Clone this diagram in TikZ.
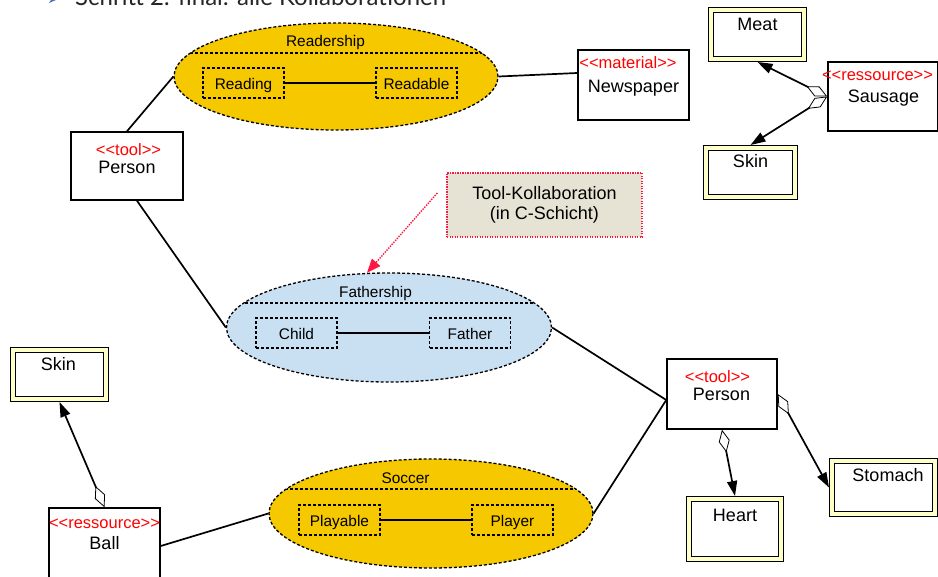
\documentclass[tikz,border=0pt]{standalone}
\usepackage{fontspec}
\newfontfamily\af{Liberation Sans}
\newfontfamily\hf{Lato}
\usetikzlibrary{shapes.geometric,arrows.meta,calc}
\definecolor{gold}{HTML}{F5C800}
\definecolor{lblue}{HTML}{C9DFF2}
\definecolor{notefill}{HTML}{E6E3D4}
\definecolor{notered}{HTML}{FF1744}
\definecolor{band}{HTML}{FFFFC8}
\definecolor{stereo}{HTML}{FF0000}
\definecolor{headgray}{HTML}{262626}
\definecolor{bullblue}{HTML}{4472C4}
\begin{document}
\begin{tikzpicture}[x=1pt,y=-1pt, font=\af,
  box/.style={draw, line width=1.5pt, fill=white, inner sep=0pt, rectangle},
  dbox/.style={draw, line width=1.3pt, double=band, double distance=3.8pt, fill=white, inner sep=0pt, outer sep=3.2pt, rectangle},
  coll/.style={ellipse, draw, line width=1.3pt, dash pattern=on 3pt off 2pt, inner sep=0pt},
  chord/.style={line width=1.3pt, dash pattern=on 3pt off 2pt},
  role/.style={draw, line width=1.3pt, dash pattern=on 3pt off 2pt, minimum width=81pt, minimum height=30pt, inner sep=0pt, text height=12.5pt, text depth=0pt, font=\af\fontsize{15.4}{15.4}\selectfont},
  ttl/.style={anchor=base, inner sep=0pt, font=\af\fontsize{15.4}{15.4}\selectfont},
  txt/.style={anchor=base, inner sep=0pt, font=\af\fontsize{18}{18}\selectfont},
  st/.style={anchor=base, inner sep=0pt, text=stereo, font=\af\fontsize{16.5}{16.5}\selectfont},
  link/.style={line width=1.7pt},
  agg/.style={line width=1.7pt, {Diamond[open, length=23pt, width=11pt, line width=0.8pt]}-{Triangle[length=15pt, width=10pt]}},
  notebox/.style={draw=notered, line width=1.3pt, dash pattern=on 1.3pt off 1.2pt, fill=notefill, minimum width=195pt, minimum height=64pt, align=center, inner sep=0pt, font=\af\fontsize{18}{20}\selectfont}
]
\useasboundingbox (0,0) rectangle (938,577);

% heading (cut off at the top, as in the reference)
\fill[bullblue] (49,-6) -- (56,0) -- (49,3) -- (51,0) -- cycle;
\node[anchor=base west, inner sep=0pt, text=headgray, font=\hf\fontsize{24}{24}\selectfont] (head) at (75,6) {Schritt 2: final: alle Kollaborationen};

% collaborations
\node[coll, fill=gold, minimum width=324pt, minimum height=107pt] (read) at (336,76.5) {};
\node[coll, fill=lblue, minimum width=325pt, minimum height=109pt] (fath) at (389,327.5) {};
\node[coll, fill=gold, minimum width=324pt, minimum height=109pt] (socc) at (431,513.5) {};
\begin{scope}
  \clip (336,76.5) ellipse [x radius=162, y radius=53.5];
  \draw[chord] (150,53) -- (520,53);
\end{scope}
\begin{scope}
  \clip (389,327.5) ellipse [x radius=162.5, y radius=54.5];
  \draw[chord] (200,303) -- (580,303);
\end{scope}
\begin{scope}
  \clip (431,513.5) ellipse [x radius=162, y radius=54.5];
  \draw[chord] (250,489) -- (620,489);
\end{scope}
\node[ttl] (readT) at (325.5,47) {Readership};
\node[ttl] (fathT) at (375.5,298) {Fathership};
\node[ttl] (soccT) at (405.5,484) {Soccer};

\node[role] (rdg) at (243.5,83) {Reading};
\node[role] (rdb) at (416.5,83) {Readable};
\node[role] (chd) at (296.5,333) {Child};
\node[role] (fat) at (470,333) {Father};
\node[role] (ply) at (339.5,520) {Playable};
\node[role] (plr) at (512.5,520) {Player};
\draw[link] (rdg) -- (rdb);
\draw[link] (chd) -- (fat);
\draw[link] (ply) -- (plr);

% class boxes
\node[box, minimum width=112pt, minimum height=68pt] (p1) at (127,166) {};
\node[st] (p1s) at (128.5,156) {<<tool>>};
\node[txt] (p1t) at (127,174) {Person};

\node[box, minimum width=111pt, minimum height=70pt] (news) at (633.5,85) {};
\node[st] (newss) at (628,69) {<<material>>};
\node[txt] (newst) at (633.5,93) {Newspaper};

\node[box, minimum width=110pt, minimum height=69pt] (saus) at (883,96.5) {};
\node[st] (sauss) at (877.5,81) {<<ressource>>};
\node[txt] (saust) at (883.5,103) {Sausage};

\node[box, minimum width=110pt, minimum height=70pt] (p2) at (722,394) {};
\node[st] (p2s) at (717.5,383) {<<tool>>};
\node[txt] (p2t) at (721.5,401) {Person};

\node[box, minimum width=111pt, minimum height=76pt] (ball) at (104.5,546) {};
\node[st] (balls) at (104.5,529) {<<ressource>>};
\node[txt] (ballt) at (104.5,549) {Ball};

% part boxes
\node[dbox, minimum width=92.6pt, minimum height=48.6pt] (meat) at (757.5,34.5) {};
\node[txt] (meatt) at (757.5,31) {Meat};
\node[dbox, minimum width=88.6pt, minimum height=48.6pt] (skin1) at (750.5,172.5) {};
\node[txt] (skin1t) at (750.5,168) {Skin};
\node[dbox, minimum width=92.6pt, minimum height=48.6pt] (skin2) at (59.5,374.5) {};
\node[txt] (skin2t) at (58.5,371) {Skin};
\node[dbox, minimum width=91.6pt, minimum height=59.6pt] (heart) at (735,529) {};
\node[txt] (heartt) at (735,521) {Heart};
\node[dbox, minimum width=102.6pt, minimum height=52.6pt] (stom) at (883.5,487.5) {};
\node[txt] (stomt) at (888,482) {Stomach};

% note
\node[notebox] (note) at (544.5,205) {Tool-Kollaboration\\(in C-Schicht)};
\coordinate (ns) at ($(note.west)+(-9,-12)$);
\draw[notered, line width=1.4pt, dash pattern=on 1.4pt off 1.2pt, -{Triangle[length=14pt, width=11pt]}] (ns) -- (fath.112);

% links
\draw[link] (p1.north) -- (read.west);
\draw[link] (read.east) -- ([yshift=12pt]news.west);
\draw[link] ([xshift=10pt]p1.south) -- (fath.west);
\draw[link] (fath.east) -- ([yshift=-6pt]p2.west);
\draw[link] (socc.east) -- ([yshift=-6pt]p2.west);
\draw[link] (ball.east) -- (socc.west);

% aggregations
\draw[agg] (ball.north) -- (skin2.south);
\draw[agg] (saus.west) -- (meat.south);
\draw[agg] (saus.west) -- (skin1.north);
\draw[agg] (p2.south) -- (heart.north);
\draw[agg] (p2.east) -- (stom.west);
\end{tikzpicture}
\end{document}
